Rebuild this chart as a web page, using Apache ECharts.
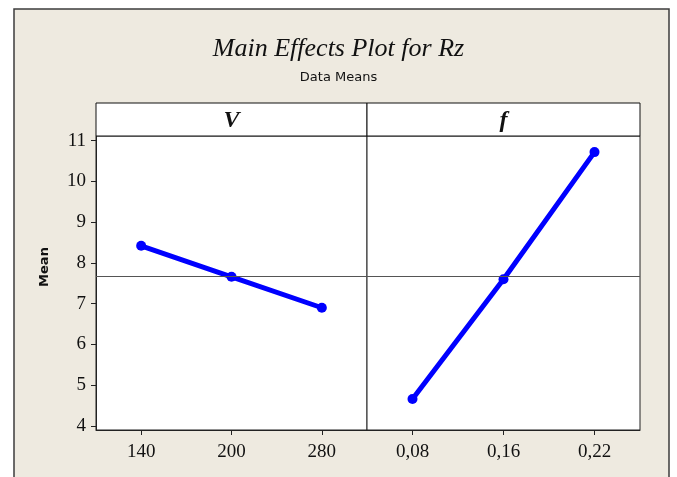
<!DOCTYPE html>
<html>
<head>
<meta charset="utf-8">
<script src="https://cdn.jsdelivr.net/npm/echarts@6/dist/echarts.min.js"></script>
<style>html,body{margin:0;padding:0;background:#fff;}#c{width:677px;height:477px;}</style>
</head>
<body>
<div id="c"></div>
<script>
const factorNames = ['V', 'f'];
const vLevels = ['140', '200', '280'];
const vMeans = [8.42, 7.66, 6.90];
const fLevels = ['0,08', '0,16', '0,22'];
const fMeans = [4.66, 7.60, 10.72];
const grandMean = 7.68;
const yTicks = [4, 5, 6, 7, 8, 9, 10, 11];

const serif = '"Liberation Serif", "Times New Roman", serif';
const chart = echarts.init(document.getElementById('c'));

const P0 = {left: 96, top: 136, width: 271, height: 294};
const P1 = {left: 367, top: 136, width: 273, height: 294};
const headerTop = 103, headerH = 33;

function xAxisFor(idx, cats) {
  return {
    type: 'category', gridIndex: idx, data: cats, boundaryGap: true,
    axisLine: {show: true, lineStyle: {color: '#222', width: 1}},
    axisTick: {show: true, alignWithLabel: true, length: 5, lineStyle: {color: '#222'}},
    axisLabel: {color: '#111', fontFamily: serif, fontSize: 19, margin: 13},
    splitLine: {show: false}
  };
}
function yAxisFor(idx, showLabels) {
  return {
    type: 'value', gridIndex: idx, min: 3.9, max: 11.115,
    axisLine: {show: showLabels, lineStyle: {color: '#222', width: 1}},
    axisTick: {show: showLabels, length: 5, customValues: yTicks, lineStyle: {color: '#222'}},
    axisLabel: {show: showLabels, customValues: yTicks, color: '#111', fontFamily: serif, fontSize: 19, margin: 10},
    splitLine: {show: false}
  };
}
function seriesFor(idx, data) {
  return {
    type: 'line', xAxisIndex: idx, yAxisIndex: idx, data: data,
    symbol: 'circle', symbolSize: 10, showSymbol: true,
    lineStyle: {color: '#0000ff', width: 5},
    itemStyle: {color: '#0000ff'},
    animation: false, silent: true,
    markLine: {
      silent: true, symbol: 'none', label: {show: false},
      lineStyle: {color: '#555', width: 1, type: 'solid'},
      data: [{yAxis: grandMean}]
    }
  };
}

const panels = [P0, P1];
const headerGraphics = [];
panels.forEach((p, i) => {
  headerGraphics.push({
    type: 'rect', shape: {x: p.left, y: headerTop, width: p.width, height: headerH},
    style: {fill: '#fff', stroke: '#111', lineWidth: 1}, z: 1
  });
  headerGraphics.push({
    type: 'text', x: p.left + p.width / 2, y: headerTop + headerH / 2 + 1,
    style: {text: factorNames[i], font: 'italic bold 24px ' + serif, fill: '#111',
      textAlign: 'center', textVerticalAlign: 'middle'}, z: 2
  });
});

chart.setOption({
  backgroundColor: '#fff',
  animation: false,
  title: {
    text: 'Main Effects Plot for Rz',
    subtext: 'Data Means',
    left: 'center', top: 31, itemGap: 9,
    textStyle: {fontFamily: serif, fontStyle: 'italic', fontWeight: 'normal', fontSize: 26, color: '#111'},
    subtextStyle: {fontFamily: '"DejaVu Sans", sans-serif', fontSize: 13, color: '#111'}
  },
  graphic: [
    {type: 'rect', shape: {x: 14, y: 9, width: 655, height: 500},
      style: {fill: '#EEEAE0', stroke: '#3c3c3c', lineWidth: 1.5}, z: -10, silent: true},
    ...headerGraphics,
    {type: 'text', x: 45, y: 267, rotation: Math.PI / 2,
      style: {text: 'Mean', font: 'bold 13px "DejaVu Sans", sans-serif', fill: '#111',
        textAlign: 'center', textVerticalAlign: 'middle'}}
  ],
  grid: panels.map(p => ({
    left: p.left, top: p.top, width: p.width, height: p.height,
    show: true, backgroundColor: '#fff', borderColor: '#222', borderWidth: 1,
    containLabel: false
  })),
  xAxis: [xAxisFor(0, vLevels), xAxisFor(1, fLevels)],
  yAxis: [yAxisFor(0, true), yAxisFor(1, false)],
  series: [seriesFor(0, vMeans), seriesFor(1, fMeans)]
});
</script>
</body>
</html>
